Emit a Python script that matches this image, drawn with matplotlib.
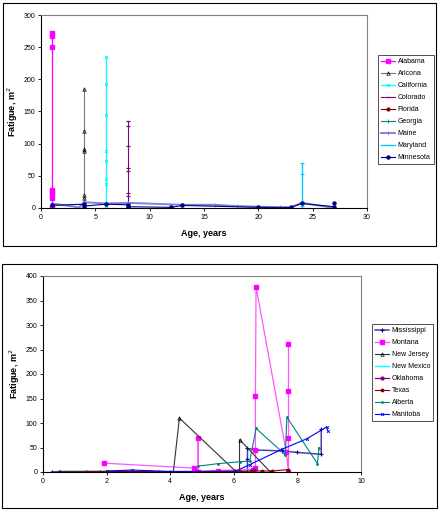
import matplotlib
matplotlib.use('Agg')
import matplotlib.pyplot as plt
from matplotlib.patches import Rectangle

plt.rcParams['font.family'] = ['Liberation Sans', 'DejaVu Sans']

# ---- top chart data (age, fatigue) ----
alabama_x = [1, 1, 1, 1, 1, 1, 1, 1, 1]
alabama_y = [272, 268, 250, 28, 25, 21, 16, 2, 0]
arizona_x = [4, 4, 4, 4, 4, 4, 4, 4, 4, 4]
arizona_y = [185, 120, 92, 88, 20, 15, 10, 6, 3, 0]
california_x = [6, 6, 6, 6, 6, 6, 6, 6, 6, 6]
california_y = [235, 192, 145, 88, 73, 45, 37, 8, 3, 0]
colorado_x = [8, 8, 8, 8, 8, 8, 8, 8, 8]
colorado_y = [135, 128, 97, 62, 58, 23, 19, 6, 2]
florida_x = [12, 12]
florida_y = [1, 0]
georgia_x = [13, 13]
georgia_y = [3, 0]
maine_x = [1, 3.5, 4, 6, 8, 13, 16, 18, 22, 23, 24, 27]
maine_y = [7, 1, 9, 7, 8, 5, 5, 3, 1, 1, 8, 0]
maryland_x = [24, 24, 24, 24, 24]
maryland_y = [70, 53, 8, 3, 0]
minnesota_x = [1, 4, 4, 6, 8, 8, 12, 13, 20, 23, 24, 27, 27]
minnesota_y = [4, 6, 3, 6, 5, 2, 1, 4, 1, 1, 7, 2, 8]

# ---- bottom chart data ----
mississippi_x = [0.27, 0.55, 2.5, 4.0, 5.3, 6.0, 6.43, 6.43, 6.43, 6.7, 7.5, 8.0, 8.75, 8.75]
mississippi_y = [0, 1, 1, 0, 1, 2, 0, 27, 48, 45, 43, 40, 36, 87]
montana_x = [1.93, 4.75, 4.88, 4.88, 4.88, 5.5, 6.6, 6.68, 6.68, 6.68, 6.7, 7.65, 7.72, 7.72, 7.72, 7.72]
montana_y = [18, 8, 0, 70, 0, 3, 5, 8, 45, 155, 378, 40, 0, 70, 165, 262]
newjersey_x = [0.5, 4.1, 4.29, 6.05, 6.18, 6.18, 7.15]
newjersey_y = [1, 1, 110, 2, 0, 66, 0]
newmexico_x = [1.8, 3.0, 4.7]
newmexico_y = [0, 1, 0]
oklahoma_x = [6.55, 6.65]
oklahoma_y = [3, 5]
texas_x = [1.35, 1.8, 3.35, 3.65, 6.9, 7.2, 7.72]
texas_y = [1, 1, 1, 1, 2, 2, 5]
alberta_x = [4.88, 5.5, 6.2, 6.5, 6.7, 7.62, 7.67, 8.63, 8.68]
alberta_y = [12, 17, 21, 22, 89, 35, 112, 17, 50]
manitoba_x = [2.0, 2.8, 4.0, 6.0, 6.5, 7.5, 8.3, 8.92, 8.95]
manitoba_y = [2, 4, 1, 0, 15, 46, 68, 92, 84]

W, H = 440, 512
fig = plt.figure(figsize=(4.4, 5.12), dpi=100)

def px_box(l, t, r, b):
    return [l / W, 1 - b / H, (r - l) / W, (b - t) / H]

# outer frames
for l, t, r, b in [(3, 3, 436, 246), (2, 264, 437, 508)]:
    fig.patches.append(Rectangle((l / W, 1 - b / H), (r - l) / W, (b - t) / H,
                                 transform=fig.transFigure, fill=False,
                                 edgecolor='black', lw=0.8))

def style_axes(ax):
    for s in ['top', 'right']:
        ax.spines[s].set_color('#808080')
        ax.spines[s].set_linewidth(0.8)
    for s in ['left', 'bottom']:
        ax.spines[s].set_color('black')
        ax.spines[s].set_linewidth(0.8)
    ax.tick_params(direction='out', length=2, width=0.6, labelsize=5, pad=2)
    ax.set_xlabel('Age, years', fontsize=6.5, fontweight='bold', labelpad=6)
    ax.set_ylabel('Fatigue, m$^2$', fontsize=6.5, fontweight='bold', labelpad=3)

def add_legend(ax, x, y):
    leg = ax.legend(loc='upper left', bbox_to_anchor=(x / W, 1 - y / H),
                    bbox_transform=fig.transFigure, fontsize=5, frameon=True,
                    fancybox=False, edgecolor='black', borderaxespad=0,
                    handlelength=2.0, handletextpad=0.4, labelspacing=0.72,
                    borderpad=0.45)
    leg.get_frame().set_linewidth(0.6)
    return leg

# ---- top chart ----
ax1 = fig.add_axes(px_box(41, 15, 367, 208))
ax1.plot(alabama_x, alabama_y, color='#FF00FF', lw=0.9, marker='s', ms=2.5, label='Alabama')
ax1.plot(arizona_x, arizona_y, color='#777777', lw=0.8, marker='^', ms=2.5,
         mfc='none', mec='black', mew=0.5, label='Aricona')
ax1.plot(california_x, california_y, color='#00FFFF', lw=0.9, marker='x', ms=2, mew=0.8, label='California')
ax1.plot(colorado_x, colorado_y, color='#800080', lw=0.8, marker='_', ms=3, mew=0.9, label='Colorado')
ax1.plot(florida_x, florida_y, color='#800000', lw=0.8, marker='o', ms=2, label='Florida')
ax1.plot(georgia_x, georgia_y, color='#008080', lw=0.8, marker='+', ms=2.5, mew=0.6, label='Georgia')
ax1.plot(maine_x, maine_y, color='#8080E0', lw=1.4, marker='+', ms=2.5, mew=0.6, label='Maine')
ax1.plot(maryland_x, maryland_y, color='#00CCFF', lw=1.0, marker='_', ms=3, mew=0.8, label='Maryland')
ax1.plot(minnesota_x, minnesota_y, color='#000080', lw=0.8, marker='o', ms=2.2, label='Minnesota')
ax1.set_xlim(0, 30)
ax1.set_ylim(0, 300)
ax1.set_xticks(range(0, 31, 5))
ax1.set_yticks(range(0, 301, 50))
style_axes(ax1)
add_legend(ax1, 378, 55)

# ---- bottom chart ----
ax2 = fig.add_axes(px_box(43, 276, 361, 472))
ax2.plot(mississippi_x, mississippi_y, color='#4444AA', lw=1.1, marker='+', ms=2.5, mew=0.8,
         mec='#000080', label='Mississippi')
ax2.plot(montana_x, montana_y, color='#FF55FF', lw=0.9, marker='s', ms=2.2, mec='#FF00FF',
         mfc='#FF00FF', label='Montana')
ax2.plot(newjersey_x, newjersey_y, color='#333333', lw=0.8, marker='^', ms=2.5,
         mfc='none', mec='black', mew=0.5, label='New Jersey')
ax2.plot(newmexico_x, newmexico_y, color='#00FFFF', lw=1.0, label='New Mexico')
ax2.plot(oklahoma_x, oklahoma_y, color='#800080', lw=0.9, marker='o', ms=2, label='Oklahoma')
ax2.plot(texas_x, texas_y, color='#800000', lw=0.8, marker='*', ms=2.5, label='Texas')
ax2.plot(alberta_x, alberta_y, color='#008080', lw=0.8, marker='.', ms=2, label='Alberta')
ax2.plot(manitoba_x, manitoba_y, color='#0000FF', lw=0.8, marker='x', ms=2, mew=0.6, label='Manitoba')
ax2.set_xlim(0, 10)
ax2.set_ylim(0, 400)
ax2.set_xticks(range(0, 11, 2))
ax2.set_yticks(range(0, 401, 50))
style_axes(ax2)
add_legend(ax2, 372, 324)

fig.savefig('out.png', dpi=100, facecolor='white')
